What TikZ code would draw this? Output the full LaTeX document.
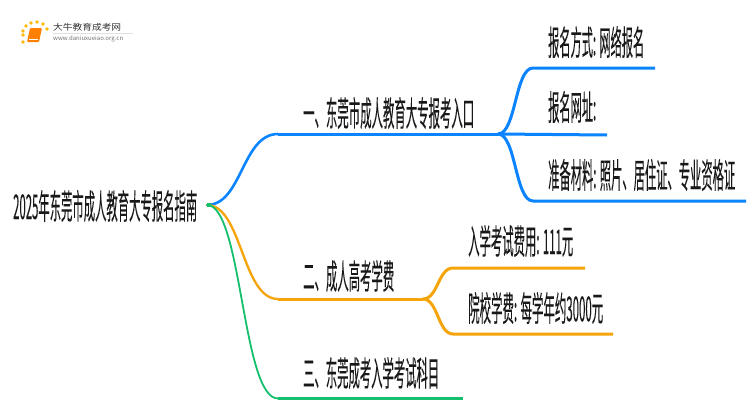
\documentclass[tikz,border=0pt]{standalone}
\usepackage{fontspec}
\setmainfont{Noto Sans CJK SC}[FakeBold=0.1]
\newfontfamily\logofont{Noto Sans CJK SC}
\definecolor{bl}{HTML}{0A84FF}
\definecolor{og}{HTML}{F5A50A}
\definecolor{gn}{HTML}{14C06E}
\newcommand{\fit}[2]{\resizebox*{#1pt}{32pt}{#2}}
\tikzset{
  lbl/.style={inner sep=0pt,anchor=west,font=\fontsize{20}{20}\selectfont,text=black!90},
  branch/.style={line width=2.6pt,line cap=round},
  leaf/.style={line width=3pt}
}
\begin{document}
\begin{tikzpicture}[x=1pt,y=-1pt]
\useasboundingbox (0,0) rectangle (750,410);
\fill[white] (0,0) rectangle (750,410);
% logo
\foreach \a/\b in {23/42,23/35,23/31,26/26,31/23,37/22,43/24,47/29}{\fill[orange!55!yellow] (\a,\b) circle (1.8);}
\fill[orange,rounded corners=1pt] (30,28) -- (42,28) -- (39,42) -- (27,42) -- cycle;
\draw[white,line width=.6pt] (29,39.5) -- (38,39.5);
\node[inner sep=0pt,anchor=west,font=\logofont\fontsize{8.5}{9}\selectfont,text=black!80] (logotext) at (53,27.5) {\resizebox{68pt}{\height}{大牛教育成考网}};
\node[inner sep=0pt,anchor=west,font=\logofont\fontsize{6}{7}\selectfont,text=black!55] (logourl) at (53,39) {\resizebox{70pt}{\height}{www.daniuxueiao.org.cn}};
\draw[black!12,line width=.6pt] (53,33.5) -- (133,33.5);
% text
\node[lbl] (root) at (13,206) {\fit{184}{2025年东莞市成人教育大专报名指南}};
\node[lbl] (a) at (303,113) {\fit{171}{一、东莞市成人教育大专报考入口}};
\node[lbl] (b) at (303,276) {\fit{91}{二、成人高考学费}};
\node[lbl] (c) at (303,373) {\fit{136}{三、东莞成考入学考试科目}};
\node[lbl] (a1) at (548,42) {\fit{96}{报名方式: 网络报名}};
\node[lbl] (a2) at (548,107) {\fit{48}{报名网址:}};
\node[lbl] (a3) at (548,175) {\fit{187}{准备材料: 照片、居住证、专业资格证}};
\node[lbl] (b1) at (468,241) {\fit{105}{入学考试费用: 111元}};
\node[lbl] (b2) at (468,308) {\fit{135}{院校学费: 每学年约3000元}};
% connectors
\coordinate (o) at (207,205);
\coordinate (ah) at (498,134);
\coordinate (bh) at (423,299);
\coordinate (af) at (278,134);
\coordinate (bf) at (278,299);
\coordinate (cf) at (278,398.5);
\coordinate (ce) at (463,398.5);
\coordinate (a1f) at (533,68);
\coordinate (a1e) at (655,68);
\coordinate (a2e) at (607,135);
\coordinate (a3f) at (533,201);
\coordinate (a3e) at (746,201);
\coordinate (b1f) at (453,268);
\coordinate (b1e) at (585,268);
\coordinate (b2f) at (453,334);
\coordinate (b2e) at (613,334);
\draw[branch,bl] (o) .. controls (242,205) and (242,134) .. (af);
\draw[leaf,bl] (af) -- (ah);
\draw[line width=2.3pt,og,line cap=round] (o) .. controls (242,205) and (242,299) .. (bf);
\draw[leaf,og] (bf) -- (bh);
\draw[line width=1.8pt,gn,line cap=round] (o) .. controls (242,205) and (242,398.5) .. (cf);
\draw[leaf,gn] (cf) -- (ce);
\fill[gn] (o) ++(0,-2) rectangle ++(4,4);
\draw[leaf,bl] (ah) .. controls (516,134) and (515,68) .. (a1f) -- (a1e);
\draw[leaf,bl] (ah) -- (a2e);
\draw[leaf,bl] (ah) .. controls (516,134) and (515,201) .. (a3f) -- (a3e);
\draw[leaf,og] (bh) .. controls (438,299) and (438,268) .. (b1f) -- (b1e);
\draw[leaf,og] (bh) .. controls (438,299) and (438,334) .. (b2f) -- (b2e);
\end{tikzpicture}
\end{document}
